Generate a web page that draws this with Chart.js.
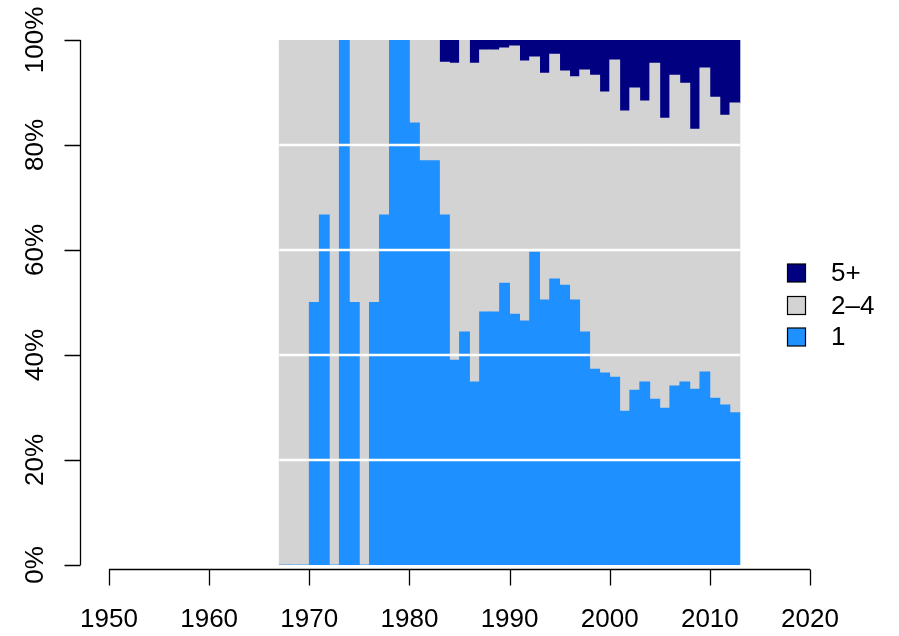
<!DOCTYPE html>
<html>
<head>
<meta charset="utf-8">
<script src="https://cdn.jsdelivr.net/npm/chart.js@4/dist/chart.umd.min.js"></script>
<style>
html,body{margin:0;padding:0;background:#fff;}
#wrap{width:899px;height:636px;}
</style>
</head>
<body>
<div id="wrap"><canvas id="c" width="899" height="636"></canvas></div>
<script>
const years = [1967,1968,1969,1970,1971,1972,1973,1974,1975,1976,1977,1978,1979,1980,1981,1982,1983,1984,1985,1986,1987,1988,1989,1990,1991,1992,1993,1994,1995,1996,1997,1998,1999,2000,2001,2002,2003,2004,2005,2006,2007,2008,2009,2010,2011,2012];
const share1 = [0,0,0,50,66.7,0,100,50,0,50,66.7,100,100,84.2,77.0,77.0,66.7,39.0,44.4,34.9,48.2,48.2,53.7,47.8,46.5,59.6,50.5,54.5,53.3,50.5,44.4,37.3,36.6,35.8,29.3,33.3,34.9,31.6,29.9,34.1,34.9,33.5,36.8,31.8,30.5,29.0];
const share2to4 = [100,100,100,50,33.3,100,0,50,100,50,33.3,0,0,15.8,23.0,23.0,29.1,56.6,55.6,60.7,49.9,49.9,44.8,51.1,49.5,37.2,43.2,42.8,40.8,42.5,49.9,56.0,53.5,60.4,57.2,57.6,53.5,64.0,55.2,59.2,56.9,49.5,57.9,57.3,55.2,59.0];
const share5plus = [0,0,0,0,0,0,0,0,0,0,0,0,0,0,0,0,4.2,4.4,0,4.4,1.9,1.9,1.5,1.1,4.0,3.2,6.3,2.7,5.9,7.0,5.7,6.7,9.9,3.8,13.5,9.1,11.6,4.4,14.9,6.7,8.2,17.0,5.3,10.9,14.3,12.0];
const xTicks = [1950,1960,1970,1980,1990,2000,2010,2020];
const yTicks = [0,20,40,60,80,100];
const yTickLabels = ['0%','20%','40%','60%','80%','100%'];
const gridValues = [20,40,60,80];
const legendLabels = ['5+','2\u20134','1'];
const legendColors = ['#000080','#D3D3D3','#1E90FF'];

const toPts = arr => arr.map((v,i)=>({x: years[i]+0.5, y: v}));

const FONT = '"Liberation Sans", Arial, Helvetica, sans-serif';

const rStyle = {
  id: 'rStyle',
  afterDatasetsDraw(chart){
    const ctx = chart.ctx, xs = chart.scales.x, ys = chart.scales.y;
    ctx.save();
    ctx.strokeStyle = '#ffffff';
    ctx.lineWidth = 2.6;
    gridValues.forEach(v=>{
      const y = ys.getPixelForValue(v);
      ctx.beginPath();
      ctx.moveTo(xs.getPixelForValue(years[0]), y);
      ctx.lineTo(xs.getPixelForValue(years[years.length-1]+1), y);
      ctx.stroke();
    });
    ctx.restore();
  },
  afterDraw(chart){
    const ctx = chart.ctx, xs = chart.scales.x, ys = chart.scales.y;
    ctx.save();
    ctx.strokeStyle = '#000';
    ctx.lineWidth = 1.3;
    ctx.fillStyle = '#000';
    ctx.font = '26px ' + FONT;
    // x axis
    const xAxisY = 569.5;
    ctx.beginPath();
    ctx.moveTo(xs.getPixelForValue(xTicks[0]), xAxisY);
    ctx.lineTo(xs.getPixelForValue(xTicks[xTicks.length-1]), xAxisY);
    xTicks.forEach(t=>{
      const x = Math.round(xs.getPixelForValue(t))+0.5;
      ctx.moveTo(x, xAxisY);
      ctx.lineTo(x, xAxisY+16);
    });
    ctx.stroke();
    ctx.textAlign = 'center';
    ctx.textBaseline = 'alphabetic';
    xTicks.forEach(t=>{
      ctx.fillText(String(t), xs.getPixelForValue(t), 627);
    });
    // y axis
    const yAxisX = 80.5;
    ctx.beginPath();
    ctx.moveTo(yAxisX, ys.getPixelForValue(yTicks[0]));
    ctx.lineTo(yAxisX, ys.getPixelForValue(yTicks[yTicks.length-1]));
    yTicks.forEach(t=>{
      const y = Math.round(ys.getPixelForValue(t))+0.5;
      ctx.moveTo(yAxisX, y);
      ctx.lineTo(yAxisX-16, y);
    });
    ctx.stroke();
    yTicks.forEach((t,i)=>{
      const y = ys.getPixelForValue(t);
      ctx.save();
      ctx.translate(43, y);
      ctx.rotate(-Math.PI/2);
      ctx.textAlign = 'center';
      ctx.fillText(yTickLabels[i], 0, 0);
      ctx.restore();
    });
    // legend
    const rowY = [273, 305.5, 337];
    ctx.lineWidth = 1.2;
    legendLabels.forEach((lab,i)=>{
      ctx.fillStyle = legendColors[i];
      ctx.fillRect(787.5, rowY[i]-9, 18, 18);
      ctx.strokeStyle = '#000';
      ctx.strokeRect(787.5, rowY[i]-9, 18, 18);
      ctx.fillStyle = '#000';
      ctx.textAlign = 'left';
      ctx.textBaseline = 'middle';
      ctx.fillText(lab, 831, rowY[i]+1);
    });
    ctx.restore();
  }
};

new Chart(document.getElementById('c'), {
  type: 'bar',
  data: {
    datasets: [
      {label: '1', data: toPts(share1), backgroundColor: '#1E90FF', borderWidth: 0},
      {label: '2\u20134', data: toPts(share2to4), backgroundColor: '#D3D3D3', borderWidth: 0},
      {label: '5+', data: toPts(share5plus), backgroundColor: '#000080', borderWidth: 0}
    ]
  },
  options: {
    responsive: false,
    animation: false,
    devicePixelRatio: 1,
    layout: {padding: {left: 109, right: 89, top: 40, bottom: 71}},
    datasets: {bar: {barPercentage: 1, categoryPercentage: 1, inflateAmount: 0.4}},
    plugins: {legend: {display: false}, tooltip: {enabled: false}},
    scales: {
      x: {type: 'linear', min: 1950, max: 2020, offset: false, stacked: true, display: false},
      y: {min: 0, max: 100, stacked: true, display: false}
    }
  },
  plugins: [rStyle]
});
</script>
</body>
</html>
